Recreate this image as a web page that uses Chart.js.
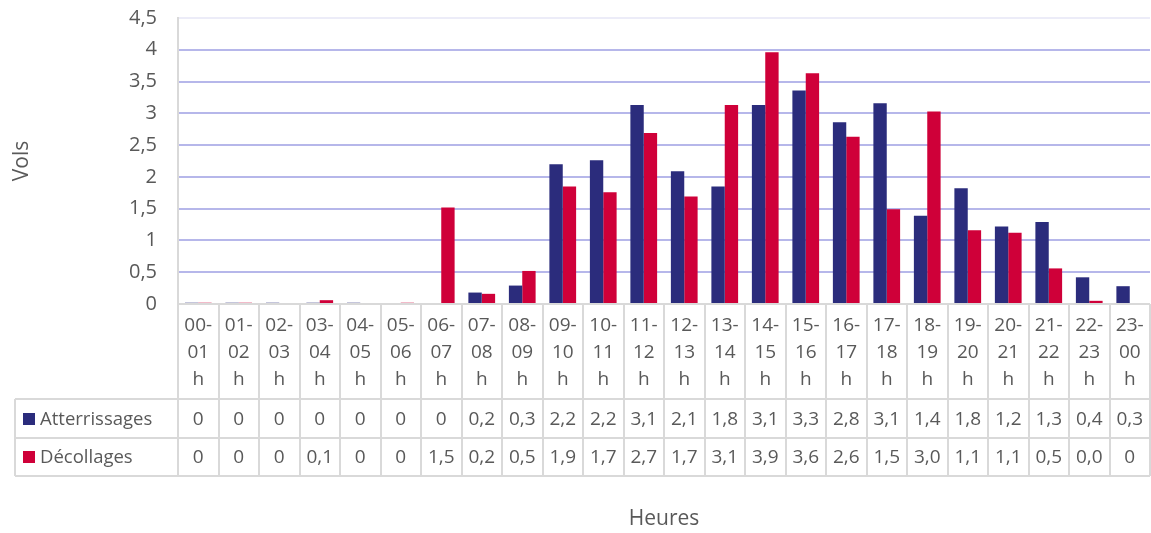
<!DOCTYPE html>
<html>
<head>
<meta charset="utf-8">
<script src="https://cdn.jsdelivr.net/npm/chart.js@4.4.1/dist/chart.umd.min.js"></script>
<style>
  html, body { margin: 0; padding: 0; background: #fff; }
  #wrap { width: 1151px; height: 533px; }
</style>
</head>
<body>
<div id="wrap"><canvas id="volsChart" width="1151" height="533"></canvas></div>
<script>
// heures (categories)
const heures = ['00-01', '01-02', '02-03', '03-04', '04-05', '05-06', '06-07', '07-08', '08-09', '09-10',
    '10-11', '11-12', '12-13', '13-14', '14-15', '15-16', '16-17', '17-18', '18-19', '19-20',
    '20-21', '21-22', '22-23', '23-00'];

// bar heights
const atterrissages = [0.02, 0.02, 0.02, 0.02, 0.02, 0, 0, 0.18, 0.29, 2.2, 2.26, 3.13, 2.09, 1.85,
    3.13, 3.36, 2.86, 3.16, 1.39, 1.82, 1.22, 1.29, 0.42, 0.28];
const decollages = [0.02, 0.02, 0, 0.06, 0, 0.02, 1.52, 0.16, 0.52, 1.85, 1.76, 2.69, 1.69, 3.13,
    3.96, 3.63, 2.63, 1.49, 3.03, 1.16, 1.12, 0.56, 0.05, 0];

// values printed in the data table
const tableAtt = ['0', '0', '0', '0', '0', '0', '0', '0,2', '0,3', '2,2', '2,2', '3,1', '2,1', '1,8',
    '3,1', '3,3', '2,8', '3,1', '1,4', '1,8', '1,2', '1,3', '0,4', '0,3'];
const tableDec = ['0', '0', '0', '0,1', '0', '0', '1,5', '0,2', '0,5', '1,9', '1,7', '2,7', '1,7', '3,1',
    '3,9', '3,6', '2,6', '1,5', '3,0', '1,1', '1,1', '0,5', '0,0', '0'];

const navy = '#2b2c7c'
const red = '#cf0039'
const textColor = '#595959'
const tableLine = '#d9d9d9'
const fontFamily = "'Open Sans', sans-serif"

// x labels split like in the table header
const labels = heures.map(function(h) {
    let parts = h.split('-');
    return [parts[0] + '-', parts[1], 'h'];
});

const rowTop = 399
const rowMid = 438
const rowBottom = 476
const tableLeft = 15

const dataTable = {
    id: 'dataTable',
    afterDraw(chart) {
        const {ctx, chartArea: {left, right, bottom}} = chart;
        const x = chart.scales.x;
        const step = x.getPixelForValue(1) - x.getPixelForValue(0);
        ctx.save()
        ctx.strokeStyle = tableLine
        ctx.lineWidth = 2

        // horizontal lines
        ctx.beginPath()
        ctx.moveTo(left, bottom)
        ctx.lineTo(right, bottom)
        ;[rowTop, rowMid, rowBottom].forEach(function(y) {
            ctx.moveTo(tableLeft, y)
            ctx.lineTo(right, y)
        })
        // vertical lines
        ctx.moveTo(tableLeft, rowTop)
        ctx.lineTo(tableLeft, rowBottom)
        for (let i = 0; i <= heures.length; i++) {
            let px = Math.round(x.getPixelForValue(i) - step / 2)
            if (i === heures.length) px = Math.round(right)
            ctx.moveTo(px, bottom)
            ctx.lineTo(px, rowBottom)
        }
        ctx.stroke()

        // values
        ctx.font = '19px ' + fontFamily
        ctx.fillStyle = textColor
        ctx.textAlign = 'center'
        ctx.textBaseline = 'middle'
        for (let i = 0; i < heures.length; i++) {
            let px = x.getPixelForValue(i)
            ctx.fillText(tableAtt[i], px, (rowTop + rowMid) / 2 + 1)
            ctx.fillText(tableDec[i], px, (rowMid + rowBottom) / 2 + 1)
        }

        // legend keys
        ctx.textAlign = 'left'
        ctx.fillStyle = navy
        ctx.fillRect(23, 413, 12, 12)
        ctx.fillStyle = red
        ctx.fillRect(23, 451, 12, 12)
        ctx.fillStyle = textColor
        ctx.font = '18.5px ' + fontFamily
        ctx.fillText('Atterrissages', 40, (rowTop + rowMid) / 2 + 1)
        ctx.fillText('Décollages', 40, (rowMid + rowBottom) / 2 + 1)
        ctx.restore()
    }
}

const config = {
    type: 'bar',
    data: {
        labels: labels,
        datasets: [{
            label: 'Atterrissages',
            data: atterrissages,
            backgroundColor: navy,
            barPercentage: 1,
            categoryPercentage: 0.66
        }, {
            label: 'Décollages',
            data: decollages,
            backgroundColor: red,
            barPercentage: 1,
            categoryPercentage: 0.66
        }]
    },
    plugins: [dataTable],
    options: {
        responsive: false,
        animation: false,
        layout: {
            padding: {top: 18, right: 1, left: 0, bottom: 0}
        },
        scales: {
            x: {
                afterFit: (s) => { s.height = 229 },
                grid: {display: false},
                border: {display: false},
                ticks: {
                    color: textColor,
                    font: {family: fontFamily, size: 19, lineHeight: 1.42},
                    padding: 0,
                    maxRotation: 0,
                    autoSkip: false
                },
                title: {
                    display: true,
                    text: 'Heures',
                    color: textColor,
                    font: {family: fontFamily, size: 21, lineHeight: 1.2},
                    padding: {top: 0, bottom: 1}
                }
            },
            y: {
                min: 0,
                max: 4.5,
                afterFit: (s) => {
                    s.width = 178
                    s.paddingTop = 0
                    s.paddingBottom = 0
                },
                border: {display: true, color: tableLine, width: 2},
                grid: {
                    color: (c) => c.tick && c.tick.value === 4.5 ? '#ececf8' : (c.tick && c.tick.value === 0 ? 'rgba(0,0,0,0)' : '#b6b7ea'),
                    lineWidth: 2,
                    drawTicks: false
                },
                ticks: {
                    stepSize: 0.5,
                    color: textColor,
                    padding: 21,
                    font: {family: fontFamily, size: 20},
                    callback: (v) => String(v).replace('.', ',')
                },
                title: {
                    display: true,
                    text: 'Vols',
                    color: textColor,
                    font: {family: fontFamily, size: 21, lineHeight: 1.2},
                    padding: {top: 9, bottom: 0}
                }
            }
        },
        plugins: {
            legend: {display: false},
            tooltip: {enabled: false}
        }
    }
};

new Chart(document.getElementById('volsChart').getContext('2d'), config);
</script>
</body>
</html>
